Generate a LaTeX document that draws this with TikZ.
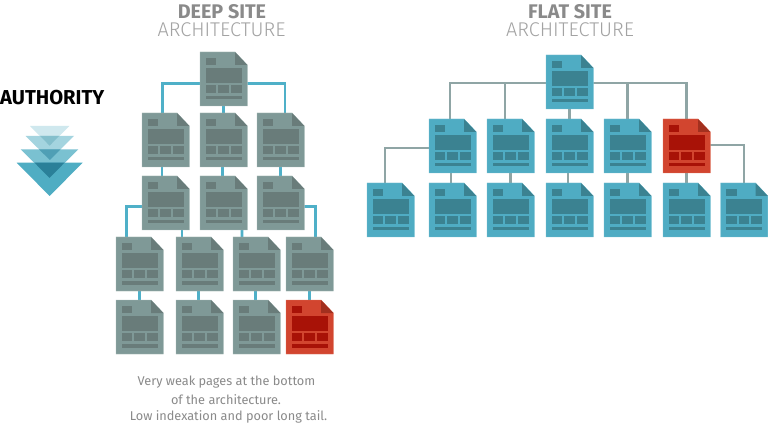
\documentclass[tikz,border=0pt]{standalone}
\usepackage{fontspec}
\setmainfont{Fira Sans}
\newfontfamily\lightfont[UprightFont={* Light}]{Fira Sans}
\usetikzlibrary{backgrounds}
\definecolor{bodyg}{HTML}{7F9997}\definecolor{darkg}{HTML}{697C7A}\definecolor{foldg}{HTML}{697C7A}\definecolor{edgeg}{HTML}{A9BBB9}
\definecolor{bodyt}{HTML}{4FACC3}\definecolor{darkt}{HTML}{3B8291}\definecolor{foldt}{HTML}{3B8291}\definecolor{edget}{HTML}{7CC3D4}
\definecolor{bodyr}{HTML}{D2452F}\definecolor{darkr}{HTML}{A81207}\definecolor{foldr}{HTML}{A2301F}\definecolor{edger}{HTML}{E07A66}
\definecolor{contl}{HTML}{4FB0C8}\definecolor{cgrey}{HTML}{8FA5A5}\definecolor{txtg}{HTML}{8A8A8A}\definecolor{txtl}{HTML}{A3A3A3}
\definecolor{tria}{HTML}{CFE8EE}\definecolor{trib}{HTML}{A4D4DF}\definecolor{tric}{HTML}{7AC1D1}\definecolor{trid}{HTML}{4FADC3}
\definecolor{ovab}{HTML}{84BFCC}\definecolor{ovbc}{HTML}{4F9FB5}\definecolor{ovcd}{HTML}{2A8099}
\tikzset{
 pagebox/.style={rectangle,inner sep=0pt,minimum width=35.25pt,minimum height=40.5pt},
 connteal/.style={draw=contl,line width=2.1pt},
 conngrey/.style={draw=cgrey,line width=1.7pt},
 headb/.style={font=\fontsize{14.8}{16}\selectfont\bfseries,text=txtg,inner sep=0pt},
 headl/.style={font=\fontsize{14.9}{16}\selectfont\lightfont,text=txtl,inner sep=0pt},
 note/.style={font=\fontsize{9.55}{12}\selectfont,text=txtg,inner sep=0pt},
}
\newcommand\docpage[4]{%
 \node[pagebox] (#1) at (#2+23.5,#3+27) {};
 \begin{scope}[shift={(#2,#3)}]
  \fill[body#4,draw=edge#4,line width=.35pt] (0,0) -- (35,0) -- (47.3,13) -- (47.3,54) -- (0,54) -- cycle;
  \fill[fold#4] (35,0) -- (47.3,13) -- (35,13) -- cycle;
  \fill[dark#4] (5.7,5.7) rectangle (16,13.3);
  \fill[dark#4] (5.7,15.7) rectangle (41.7,30.7);
  \fill[dark#4] (5.7,33) rectangle (16,41);
  \fill[dark#4] (18.3,33) rectangle (28.7,41);
  \fill[dark#4] (30.7,33) rectangle (41.7,41);
  \fill[dark#4] (5.7,44) rectangle (41.7,47.5);
 \end{scope}}
\begin{document}
\begin{tikzpicture}[x=.75pt,y=-.75pt]
\useasboundingbox (0,0) rectangle (768,424);
% authority triangles
\fill[tria] (30,126) -- (69.3,126) -- (49.6,145.7) -- cycle;
\fill[trib] (25.7,136) -- (74,136) -- (49.8,160) -- cycle;
\fill[tric] (20.7,149.3) -- (78.3,149.3) -- (49.5,178) -- cycle;
\fill[trid] (16.7,162.7) -- (82.7,162.7) -- (49.6,196) -- cycle;
\fill[ovab] (40.2,136) -- (59.1,136) -- (49.6,145.7) -- cycle;
\fill[ovbc] (39,149.3) -- (60.6,149.3) -- (49.8,160) -- cycle;
\fill[ovcd] (34.5,162.7) -- (64.5,162.7) -- (49.5,178) -- cycle;
% deep site
\docpage{da}{200}{52}{g}
\docpage{db}{142}{113}{g}\docpage{dc}{200}{113}{g}\docpage{dd}{257}{113}{g}
\docpage{de}{142}{176}{g}\docpage{df}{200}{176}{g}\docpage{dg}{257}{176}{g}
\docpage{dh}{116}{237}{g}\docpage{di}{176}{237}{g}\docpage{dj}{233}{237}{g}\docpage{dk}{286}{237}{g}
\docpage{dl}{116}{300}{g}\docpage{dm}{176}{300}{g}\docpage{dn}{233}{300}{g}\docpage{do}{286}{300}{r}
% flat site
\docpage{fa}{546}{55}{t}
\docpage{fb}{429}{119}{t}\docpage{fc}{487}{119}{t}\docpage{fd}{546}{119}{t}\docpage{fe}{604}{119}{t}\docpage{ff}{663}{119}{r}
\docpage{fg}{367}{183}{t}\docpage{fh}{429}{183}{t}\docpage{fi}{487}{183}{t}\docpage{fj}{546}{183}{t}\docpage{fk}{604}{183}{t}\docpage{fl}{663}{183}{t}\docpage{fm}{720.5}{183}{t}
\begin{pgfonlayer}{background}
 \fill[white] (0,0) rectangle (768,424);
 \draw[connteal] ([yshift=-3.4pt]da.center) -| ([xshift=-2.4pt]db.center);
 \draw[connteal] ([yshift=-3.4pt]da.center) -| ([xshift=3.4pt]dd.center);
 \draw[connteal] (da.center) -- (dc.center);
 \draw[connteal] ([xshift=-2.6pt]db.center) -- ([xshift=-2.6pt]de.center);
 \draw[connteal] ([xshift=-.6pt]dc.center) -- ([xshift=-.6pt]df.center);
 \draw[connteal] (dd.center) -- (dg.center);
 \draw[connteal] ([yshift=-2.8pt]de.center) -| ([xshift=-9.6pt]dh.center);
 \draw[connteal] ([yshift=-2.8pt]dg.center) -| ([xshift=4.65pt]dk.center);
 \draw[connteal] ([xshift=12.4pt]de.center) -- ([xshift=-13.1pt]di.center);
 \draw[connteal] ([xshift=13.9pt]df.center) -- ([xshift=-10.9pt]dj.center);
 \draw[connteal] (dh.center) -- (dl.center);
 \draw[connteal] ([xshift=-1pt]di.center) -- ([xshift=-1pt]dm.center);
 \draw[connteal] ([xshift=-1pt]dj.center) -- ([xshift=-1pt]dn.center);
 \draw[connteal] (dk.center) -- (do.center);
 \draw[conngrey] ([yshift=-.5pt]fa.center) -| ([xshift=-1.9pt]fb.center);
 \draw[conngrey] ([yshift=-.5pt]fa.center) -| ([xshift=-4.35pt]fc.center);
 \draw[conngrey] (fa.center) -- (fd.center);
 \draw[conngrey] ([yshift=-.5pt]fa.center) -| (fe.center);
 \draw[conngrey] ([yshift=-.5pt]fa.center) -| (ff.center);
 \draw[conngrey] ([yshift=-1.7pt]fb.center) -| ([xshift=-4.1pt]fg.center);
 \draw[conngrey] ([yshift=.75pt]ff.center) -| (fm.center);
 \draw[conngrey] ([xshift=-1.1pt]fb.center) -- ([xshift=-1.1pt]fh.center);
 \draw[conngrey] (fc.center) -- (fi.center);
 \draw[conngrey] ([xshift=-1.1pt]fd.center) -- ([xshift=-1.1pt]fj.center);
 \draw[conngrey] (fe.center) -- (fk.center);
 \draw[conngrey] (ff.center) -- (fl.center);
\end{pgfonlayer}
% texts
\node[font=\fontsize{15.1}{16}\selectfont\bfseries,text=black,inner sep=0pt] (auth) at (52.3,98) {AUTHORITY};
\node[headb] (t1) at (222,12) {DEEP SITE};
\node[headl] (t2) at (221.5,30) {ARCHITECTURE};
\node[headb] (t3) at (570,12) {FLAT SITE};
\node[headl] (t4) at (570,30) {ARCHITECTURE};
\node[note] (n1) at (226.5,382) {Very weak pages at the bottom};
\node[note] (n2) at (226,400) {of the architecture.};
\node[note] (n3) at (228.5,417) {Low indexation and poor long tail.};
\end{tikzpicture}
\end{document}
